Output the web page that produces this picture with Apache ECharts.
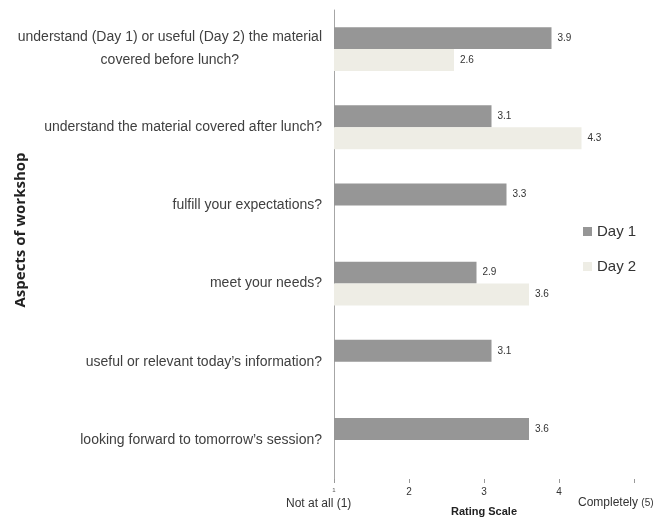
<!DOCTYPE html>
<html>
<head>
<meta charset="utf-8">
<script src="https://cdn.jsdelivr.net/npm/echarts@6/dist/echarts.min.js"></script>
<style>
  html, body { margin: 0; padding: 0; background: #fff; }
  #chart { width: 656px; height: 518px; }
</style>
</head>
<body>
<div id="chart"></div>
<script>
// Workshop feedback: rating per aspect, Day 1 vs Day 2
const categories = [
  'understand (Day 1) or useful (Day 2) the material\ncovered before lunch?',
  'understand the material covered after lunch?',
  'fulfill your expectations?',
  'meet your needs?',
  'useful or relevant today\u2019s information?',
  'looking forward to tomorrow\u2019s session?'
];
const day1 = [3.9, 3.1, 3.3, 2.9, 3.1, 3.6];
const day2 = [2.6, 4.3, null, 3.6, null, null];
const seriesNames = ['Day 1', 'Day 2'];

const chart = echarts.init(document.getElementById('chart'));
const FONT = '"Liberation Sans Narrow", "Liberation Sans", sans-serif';

const valueLabel = {
  show: true,
  position: 'right',
  distance: 6,
  fontSize: 10,
  color: '#333',
  fontFamily: FONT,
  formatter: p => p.value == null ? '' : p.value.toFixed(1)
};

chart.setOption({
  animation: false,
  grid: { left: 334, right: 22, top: 10, bottom: 39, containLabel: false },
  legend: {
    orient: 'vertical',
    left: 578,
    top: 219,
    itemGap: 20,
    itemWidth: 9,
    itemHeight: 9,
    icon: 'rect',
    textStyle: { fontSize: 15, color: '#333', fontFamily: FONT },
    data: seriesNames
  },
  xAxis: {
    type: 'value',
    min: 1,
    max: 5,
    interval: 1,
    axisLine: { show: false },
    axisTick: { show: true, length: 4, lineStyle: { color: '#999' } },
    splitLine: { show: false },
    axisLabel: {
      fontSize: 10,
      color: '#333',
      fontFamily: FONT,
      margin: 8,
      formatter: v => v === 5 ? '' : (v === 1 ? '{s|1}' : String(v)),
      rich: { s: { fontSize: 6, color: '#555' } }
    }
  },
  yAxis: {
    type: 'category',
    inverse: true,
    data: categories,
    axisLine: { show: true, lineStyle: { color: '#a6a6a6' } },
    axisTick: { show: false },
    axisLabel: {
      fontSize: 14,
      color: '#404040',
      fontFamily: FONT,
      margin: 12,
      lineHeight: 23,
      align: 'right',
      // multi-line labels: block sits right, each line centred within it
      formatter: v => v.split('\n').map(line => '{c|' + line + '}').join('\n'),
      rich: {
        c: { align: 'center', fontSize: 14, color: '#404040', fontFamily: FONT, lineHeight: 23 }
      }
    }
  },
  series: [
    {
      name: seriesNames[0],
      type: 'bar',
      data: day1,
      barGap: '0%',
      barCategoryGap: '44%',
      itemStyle: { color: '#969696' },
      label: valueLabel
    },
    {
      name: seriesNames[1],
      type: 'bar',
      data: day2,
      itemStyle: { color: '#eeede5' },
      label: valueLabel
    }
  ],
  graphic: [
    {
      type: 'text', x: 21, y: 230, rotation: Math.PI / 2,
      style: {
        text: 'Aspects of workshop', fontSize: 15, fontWeight: 'bold',
        fill: '#222', fontFamily: '"Open Sans", sans-serif',
        align: 'center', verticalAlign: 'middle'
      }
    },
    {
      type: 'text', x: 286, y: 498,
      style: { text: 'Not at all (1)', fontSize: 12, fill: '#333', fontFamily: FONT }
    },
    {
      type: 'text', x: 578, y: 497,
      style: {
        text: 'Completely {s|(5)}', fontSize: 12, fill: '#333', fontFamily: FONT,
        rich: { s: { fontSize: 10, fill: '#333', fontFamily: FONT } }
      }
    },
    {
      type: 'text', x: 484, y: 512,
      style: {
        text: 'Rating Scale', fontSize: 11, fontWeight: 'bold', fill: '#222',
        fontFamily: FONT, align: 'center', verticalAlign: 'middle'
      }
    }
  ]
});
</script>
</body>
</html>
